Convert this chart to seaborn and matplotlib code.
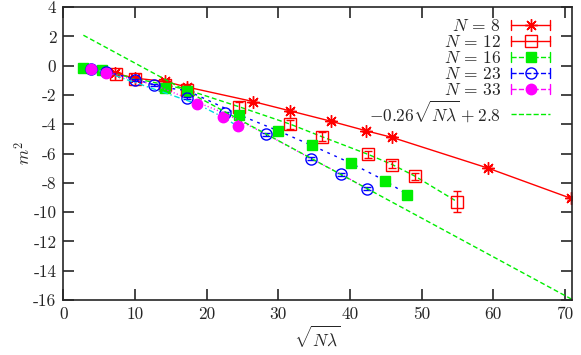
import numpy as np
import pandas as pd
import seaborn as sns
import matplotlib
matplotlib.use('Agg')
import matplotlib.pyplot as plt
from matplotlib.lines import Line2D
from matplotlib.legend_handler import HandlerBase

# data (x = sqrt(N lambda), y = m^2)
x_n8 = [7.2, 10.0, 14.2, 17.2, 26.5, 31.6, 37.4, 42.3, 45.9, 59.3, 70.8]
y_n8 = [-0.52, -0.85, -1.08, -1.45, -2.45, -3.08, -3.8, -4.45, -4.9, -7.0, -9.05]
e_n8 = [0.05, 0.06, 0.08, 0.08, 0.1, 0.1, 0.1, 0.1, 0.1, 0.12, 0.15]

x_n12 = [7.3, 10.0, 14.2, 17.3, 24.5, 31.7, 36.1, 42.5, 45.9, 49.1, 55.0]
y_n12 = [-0.55, -0.88, -1.3, -1.65, -2.8, -4.0, -4.85, -6.05, -6.75, -7.55, -9.3]
e_n12 = [0.1, 0.1, 0.15, 0.15, 0.3, 0.3, 0.3, 0.25, 0.25, 0.25, 0.72]

x_n16 = [2.8, 5.35, 14.2, 17.3, 24.5, 30.0, 34.7, 40.1, 44.9, 48.0]
y_n16 = [-0.15, -0.32, -1.5, -1.7, -3.35, -4.45, -5.45, -6.65, -7.85, -8.8]
e_n16 = [0.05, 0.05, 0.08, 0.08, 0.1, 0.1, 0.1, 0.1, 0.1, 0.1]

x_n23 = [3.8, 6.0, 10.0, 12.6, 17.3, 22.5, 28.3, 34.6, 38.8, 42.4]
y_n23 = [-0.2, -0.42, -0.98, -1.3, -2.22, -3.25, -4.68, -6.35, -7.42, -8.4]
e_n23 = [0.05, 0.05, 0.06, 0.06, 0.08, 0.08, 0.1, 0.1, 0.1, 0.1]

x_n33 = [3.9, 6.0, 18.7, 22.3, 24.4]
y_n33 = [-0.2, -0.47, -2.62, -3.52, -4.15]
e_n33 = [0.05, 0.05, 0.08, 0.08, 0.1]

labels = [r'$N\,=\,8$', r'$N\,=\,12$', r'$N\,=\,16$', r'$N\,=\,23$', r'$N\,=\,33$']

# linear fit shown in the key (rounded there)
fit_slope, fit_icpt = -0.2645, 2.82
fit_range = [2.8, 71.0]
fit_label = r'$-0.26\sqrt{N\lambda} + 2.8$'

RED, GREEN, BLUE, MAG, CYAN = '#ff0000', '#00ee00', '#0000ff', '#ff00ff', '#00dddd'
DASH = (0, (3.5, 2.0))
SDASH = (0, (2.0, 3.5))
DOT = (0, (0.8, 1.6))
DASHDOT = (0, (4.0, 2.0, 1.0, 2.0))
FS = 12.5

sns.set_style('ticks')
plt.rcParams['font.family'] = 'serif'
plt.rcParams['font.serif'] = ['cmr10', 'DejaVu Serif']
plt.rcParams['mathtext.fontset'] = 'cm'
plt.rcParams['axes.unicode_minus'] = False
plt.rcParams['axes.formatter.use_mathtext'] = True


class ErrKeyHandler(HandlerBase):
    # gnuplot-like errorbar key: |----o----|
    def create_artists(self, legend, orig_handle, xdescent, ydescent,
                       width, height, fontsize, trans):
        y = height / 2.0 - ydescent
        x0, x1 = -xdescent, width - xdescent
        col = orig_handle.get_color()
        ls = orig_handle.get_linestyle()
        lw = orig_handle.get_linewidth()
        arts = [Line2D([x0, x1], [y, y], color=col, ls=ls, lw=lw)]
        if orig_handle.get_marker() not in (None, 'None', ''):
            h = 0.28 * fontsize
            arts.append(Line2D([x0, x0], [y - h, y + h], color=col, lw=lw))
            arts.append(Line2D([x1, x1], [y - h, y + h], color=col, lw=lw))
            arts.append(Line2D([(x0 + x1) / 2], [y], marker=orig_handle.get_marker(),
                               ms=orig_handle.get_markersize(),
                               mfc=orig_handle.get_markerfacecolor(),
                               mec=orig_handle.get_markeredgecolor(),
                               mew=orig_handle.get_markeredgewidth(), ls='none'))
        for a in arts:
            a.set_transform(trans)
        return arts


fig = plt.figure(figsize=(5.81, 3.55), dpi=100)
ax = fig.add_axes([0.109, 0.155, 0.8755, 0.825])

series = [
    (x_n8, y_n8, e_n8, RED, (8, 2, 0), 9, RED, RED, '-', RED, '-'),
    (x_n12, y_n12, e_n12, RED, 's', 8, 'none', RED, '-', GREEN, DASH),
    (x_n16, y_n16, e_n16, GREEN, 's', 7.5, GREEN, GREEN, DASH, BLUE, SDASH),
    (x_n23, y_n23, e_n23, BLUE, 'o', 8, 'none', BLUE, SDASH, MAG, DOT),
    (x_n33, y_n33, e_n33, MAG, 'o', 7.5, MAG, MAG, DOT, CYAN, DASHDOT),
]

handles = []
for (xs, ys, es, col, mk, ms, mfc, mec, key_ls, lcol, lls), lab in zip(series, labels):
    df = pd.DataFrame({'x': xs, 'y': ys})
    sns.lineplot(data=df, x='x', y='y', ax=ax, color=lcol, linestyle=lls,
                 lw=1.0, sort=False, estimator=None, legend=False)
    ax.errorbar(xs, ys, yerr=es, fmt='none', ecolor=col, elinewidth=1.0,
                capsize=3, capthick=1.0)
    ax.plot(xs, ys, ls='none', marker=mk, ms=ms, mfc=mfc, mec=mec, mew=1.0)
    handles.append(Line2D([], [], color=col, ls=key_ls, lw=1.0, marker=mk,
                          ms=ms, mfc=mfc, mec=mec, mew=1.0, label=lab))

fx = np.array(fit_range)
sns.lineplot(x=fx, y=fit_slope * fx + fit_icpt, ax=ax, color=GREEN,
             linestyle=DASH, lw=1.0, legend=False)
handles.append(Line2D([], [], color=GREEN, ls=DASH, lw=1.0, marker='None',
                      label=fit_label))

ax.set_xlim(0, 71)
ax.set_ylim(-16, 4)
xt = list(range(0, 71, 10))
yt = list(range(-16, 5, 2))
ax.set_xticks(xt)
ax.set_xticklabels([str(v) for v in xt])
ax.set_yticks(yt)
ax.set_yticklabels([str(v) for v in yt])
ax.tick_params(direction='in', length=8, width=1.2, top=True, right=True,
               labelsize=FS, pad=5)
for s in ax.spines.values():
    s.set_linewidth(1.2)
ax.grid(False)

ax.set_xlabel(r'$\sqrt{N\lambda}$', fontsize=FS, labelpad=1)
ax.set_ylabel(r'$m^2$', fontsize=FS, labelpad=0)

ax.legend(handles=handles, handler_map={h: ErrKeyHandler() for h in handles},
          loc='upper right', bbox_to_anchor=(0.985, 1.01), frameon=False,
          markerfirst=False, fontsize=FS, handlelength=2.3, handletextpad=0.55,
          labelspacing=0.0, borderpad=0.3)

fig.savefig('out.png', dpi=100)
